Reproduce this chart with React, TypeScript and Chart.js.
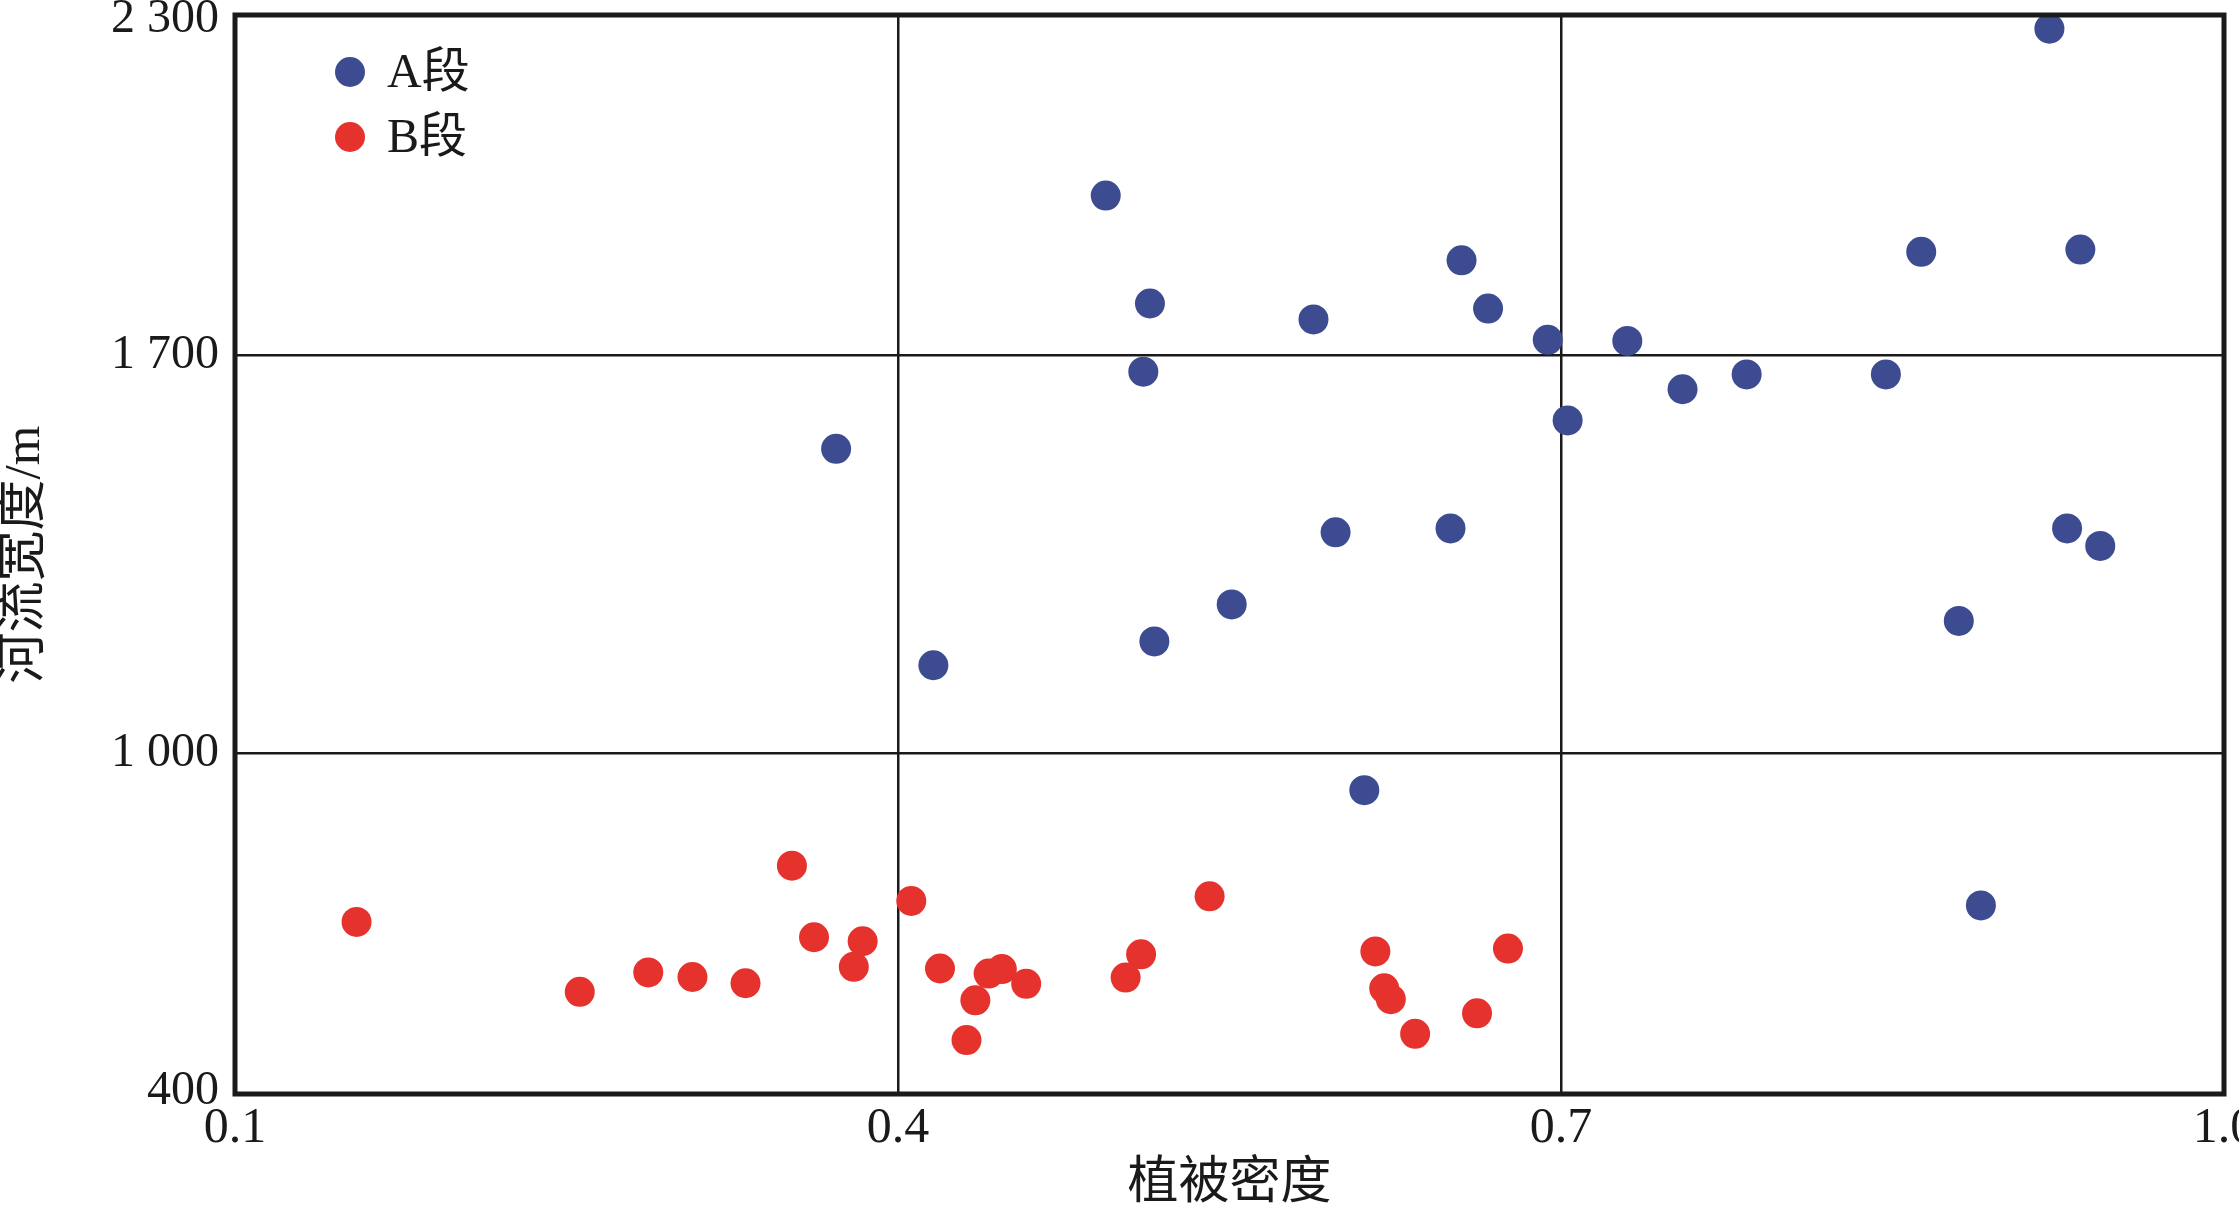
import React, { useEffect, useRef } from "react";
import { Chart, registerables } from "chart.js";

Chart.register(...registerables);

// ---- data ----
const seriesNames = ["A段", "B段"];

const aX = [0.494, 0.514, 0.588, 0.655, 0.667, 0.694, 0.511, 0.703, 0.598, 0.650, 0.551, 0.516, 0.416, 0.372, 0.921, 0.863, 0.935, 0.730, 0.755, 0.784, 0.847, 0.929, 0.944, 0.880, 0.611, 0.890];
const aY = [1982, 1792, 1764, 1868, 1783, 1728, 1672, 1586, 1389, 1396, 1262, 1197, 1155, 1536, 2276, 1883, 1887, 1726, 1641, 1667, 1667, 1396, 1365, 1233, 935, 732];

const bX = [0.155, 0.256, 0.287, 0.307, 0.331, 0.352, 0.362, 0.384, 0.380, 0.406, 0.419, 0.431, 0.435, 0.441, 0.447, 0.458, 0.510, 0.503, 0.541, 0.616, 0.620, 0.623, 0.634, 0.662, 0.676];
const bY = [703, 580, 614, 606, 595, 802, 676, 669, 624, 740, 621, 495, 565, 612, 620, 594, 646, 605, 748, 651, 586, 567, 506, 542, 656];

const xTickValues = [0.1, 0.4, 0.7, 1.0];
const xTickLabels = ["0.1", "0.4", "0.7", "1.0"];
const yTickValues = [400, 1000, 1700, 2300];
const yTickLabels = ["400", "1 000", "1 700", "2 300"];

const xTitle = "植被密度";
const yTitle = "河流宽度/m";

// ---- style ----
const W = 2239;
const H = 1210;
const AREA = { left: 235, top: 15, right: 2228, bottom: 1094 };
const INK = "#1a1a1a";
const BLUE = "rgb(61,76,145)";
const RED = "rgb(230,50,45)";
const FAMILY = '"Liberation Serif", "Noto Sans CJK SC", serif';

const findIdx = (values: number[], v: any) =>
  values.findIndex((t) => Math.abs(t - Number(v)) < 1e-9);

const labelFor = (values: number[], labels: string[]) => (v: any) => {
  const i = findIdx(values, v);
  return i >= 0 ? labels[i] : "";
};

// keep the first / last y label inside the picture: nudge via a blank line
const yLabel = (v: any) => {
  const i = findIdx(yTickValues, v);
  if (i < 0) return "";
  const t = yTickLabels[i];
  if (i === yTickValues.length - 1) return ["", t]; // push down a little
  if (i === 0) return [t, ""]; // pull up a little
  return t;
};
const yFont = (ctx: any) => {
  const v = ctx && ctx.tick ? ctx.tick.value : null;
  let lh = "1.2";
  if (v === yTickValues[yTickValues.length - 1]) lh = "8px";
  else if (v === yTickValues[0]) lh = "6px";
  return { family: FAMILY, size: 48, lineHeight: lh };
};

const framePlugin = {
  id: "frame",
  afterDraw(chart: any) {
    const { ctx, chartArea: a } = chart;
    ctx.save();
    ctx.strokeStyle = INK;
    ctx.lineWidth = 5;
    ctx.strokeRect(a.left, a.top, a.right - a.left, a.bottom - a.top);
    ctx.restore();
  },
};

const cornerLegend = {
  id: "cornerLegend",
  afterDraw(chart: any) {
    const { ctx, chartArea: a } = chart;
    ctx.save();
    chart.data.datasets.forEach((ds: any, i: number) => {
      const cx = a.left + 115;
      const cy = a.top + 57 + i * 65;
      ctx.beginPath();
      ctx.arc(cx, cy, 15, 0, Math.PI * 2);
      ctx.fillStyle = ds.backgroundColor;
      ctx.fill();
      ctx.font = `48px ${FAMILY}`;
      ctx.fillStyle = INK;
      ctx.textAlign = "left";
      ctx.textBaseline = "middle";
      ctx.fillText(ds.label, cx + 37, cy + 2);
    });
    ctx.restore();
  },
};

export default function App() {
  const ref = useRef<HTMLCanvasElement | null>(null);

  useEffect(() => {
    if (!ref.current) return;
    const chart = new Chart(ref.current, {
      type: "scatter",
      data: {
        datasets: [
          {
            label: seriesNames[0],
            data: aX.map((x, i) => ({ x, y: aY[i] })),
            backgroundColor: BLUE,
            borderWidth: 0,
            pointRadius: 15,
            pointHoverRadius: 15,
            clip: false as any,
          },
          {
            label: seriesNames[1],
            data: bX.map((x, i) => ({ x, y: bY[i] })),
            backgroundColor: RED,
            borderWidth: 0,
            pointRadius: 15,
            pointHoverRadius: 15,
            clip: false as any,
          },
        ],
      },
      options: {
        responsive: false,
        animation: false,
        devicePixelRatio: 1,
        layout: { padding: { left: 0, top: AREA.top, right: W - AREA.right, bottom: 0 } },
        plugins: {
          legend: { display: false },
          tooltip: { enabled: false },
        },
        scales: {
          x: {
            type: "linear",
            min: 0.1,
            max: 1.0,
            afterBuildTicks: (s: any) => {
              s.ticks = xTickValues.map((value) => ({ value }));
            },
            afterFit: (s: any) => {
              s.height = H - AREA.bottom;
              s.paddingLeft = 0;
              s.paddingRight = 0;
            },
            ticks: {
              callback: labelFor(xTickValues, xTickLabels),
              font: { family: FAMILY, size: 50 },
              color: INK,
              padding: 5,
              maxRotation: 0,
              autoSkip: false,
            },
            grid: { color: INK, lineWidth: 2.5, drawTicks: false },
            border: { display: false },
            title: {
              display: true,
              text: xTitle,
              color: INK,
              font: { family: FAMILY, size: 51, lineHeight: 1 },
              padding: { top: 0, bottom: 0 },
            },
          },
          y: {
            type: "linear",
            min: 400,
            max: 2300,
            afterBuildTicks: (s: any) => {
              s.ticks = yTickValues.map((value) => ({ value }));
            },
            afterFit: (s: any) => {
              s.width = AREA.left;
              s.paddingTop = 0;
              s.paddingBottom = 0;
            },
            ticks: {
              callback: yLabel,
              font: yFont,
              color: INK,
              padding: 16,
              autoSkip: false,
            },
            grid: { color: INK, lineWidth: 2.5, drawTicks: false },
            border: { display: false },
            title: {
              display: true,
              text: yTitle,
              color: INK,
              font: { family: FAMILY, size: 51, lineHeight: 1 },
              padding: { top: 0, bottom: 0 },
            },
          },
        },
      } as any,
      plugins: [framePlugin, cornerLegend],
    });
    return () => chart.destroy();
  }, []);

  return (
    <div style={{ position: "absolute", left: 0, top: 0, width: W, height: H, background: "#fff" }}>
      <canvas ref={ref} width={W} height={H} style={{ display: "block", width: W, height: H }} />
    </div>
  );
}
